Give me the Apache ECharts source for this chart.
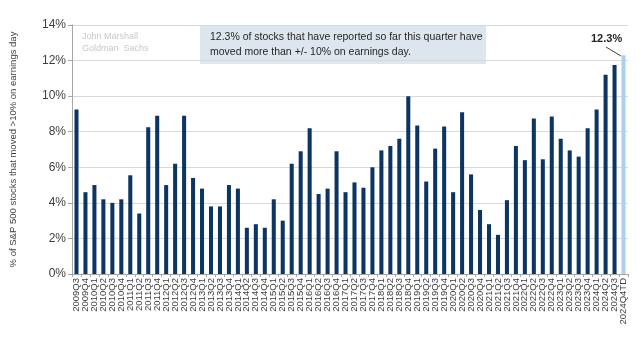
<!DOCTYPE html>
<html><head><meta charset="utf-8">
<script src="https://cdn.jsdelivr.net/npm/echarts@6/dist/echarts.min.js"></script>
<style>html,body{margin:0;padding:0;background:#fff}#c{width:641px;height:353px}</style>
</head><body><div id="c"></div>
<script>
var categories = ["2009Q3","2009Q4",
"2010Q1","2010Q2","2010Q3","2010Q4",
"2011Q1","2011Q2","2011Q3","2011Q4",
"2012Q1","2012Q2","2012Q3","2012Q4",
"2013Q1","2013Q2","2013Q3","2013Q4",
"2014Q1","2014Q2","2014Q3","2014Q4",
"2015Q1","2015Q2","2015Q3","2015Q4",
"2016Q1","2016Q2","2016Q3","2016Q4",
"2017Q1","2017Q2","2017Q3","2017Q4",
"2018Q1","2018Q2","2018Q3","2018Q4",
"2019Q1","2019Q2","2019Q3","2019Q4",
"2020Q1","2020Q2","2020Q3","2020Q4",
"2021Q1","2021Q2","2021Q3","2021Q4",
"2022Q1","2022Q2","2022Q3","2022Q4",
"2023Q1","2023Q2","2023Q3","2023Q4",
"2024Q1","2024Q2","2024Q3","2024Q4TD"];
var values = [9.25,4.6,
5.0,4.2,4.0,4.2,
5.55,3.4,8.25,8.9,
5.0,6.2,8.9,5.4,
4.8,3.8,3.8,5.0,
4.8,2.6,2.8,2.6,
4.2,3.0,6.2,6.9,
8.2,4.5,4.8,6.9,
4.6,5.15,4.85,6.0,
6.95,7.2,7.6,10.0,
8.35,5.2,7.05,8.3,
4.6,9.1,5.6,3.6,
2.8,2.2,4.15,7.2,
6.4,8.75,6.45,8.85,
7.6,6.95,6.6,8.2,
9.25,11.2,11.75,12.3];
var yTicks = [0,2,4,6,8,10,12,14];
var highlightLabel = "12.3%";
var noteText = "12.3% of stocks that have reported so far this quarter have\nmoved more than +/- 10% on earnings day.";
var authorText = "John Marshall\nGoldman  Sachs";

var barData = values.map(function(v,i){
  return i === values.length-1 ? {value:v, itemStyle:{color:'#a9d0f2'}} : v;
});
var chart = echarts.init(document.getElementById('c'));
chart.setOption({
  animation:false,
  grid:{left:72,right:13,top:25,bottom:79},
  xAxis:{type:'category',data:categories,
    axisLine:{lineStyle:{color:'#a6a6a6'}},
    axisTick:{show:true,length:3,lineStyle:{color:'#a6a6a6'}},
    axisLabel:{interval:0,rotate:90,fontSize:9.5,color:'#404040',fontFamily:'Liberation Sans',margin:4}},
  yAxis:{type:'value',min:yTicks[0],max:yTicks[yTicks.length-1],interval:2,
    name:'% of S&P 500 stocks that moved >10% on earnings day',
    nameLocation:'middle',nameGap:54,
    nameTextStyle:{fontSize:9.5,color:'#404040',fontFamily:'Liberation Sans'},
    axisLine:{show:true,lineStyle:{color:'#a6a6a6'}},
    axisTick:{show:true,length:4,lineStyle:{color:'#a6a6a6'}},
    splitLine:{lineStyle:{color:'#d9d9d9'}},
    axisLabel:{formatter:'{value}%',fontSize:12,color:'#404040',fontFamily:'Liberation Sans',margin:6}},
  series:[{type:'bar',data:barData,barWidth:'45%',itemStyle:{color:'#0c3563'}}],
  graphic:[
    {type:'text',left:82,top:31,style:{text:authorText,fontSize:9,lineHeight:12,fill:'#c8c8c8',fontFamily:'Liberation Sans'}},
    {type:'rect',left:200,top:25,shape:{width:286,height:39},style:{fill:'#dde6ef'}},
    {type:'text',left:210,top:30,style:{text:noteText,fontSize:10.5,lineHeight:15,fill:'#262626',fontFamily:'Liberation Sans'}},
    {type:'text',left:591,top:33,style:{text:highlightLabel,fontSize:11,fontWeight:'bold',fill:'#262626',fontFamily:'Liberation Sans'}},
    {type:'line',shape:{x1:606,y1:47,x2:621,y2:56},style:{stroke:'#404040',lineWidth:1}}
  ]
});
</script></body></html>
